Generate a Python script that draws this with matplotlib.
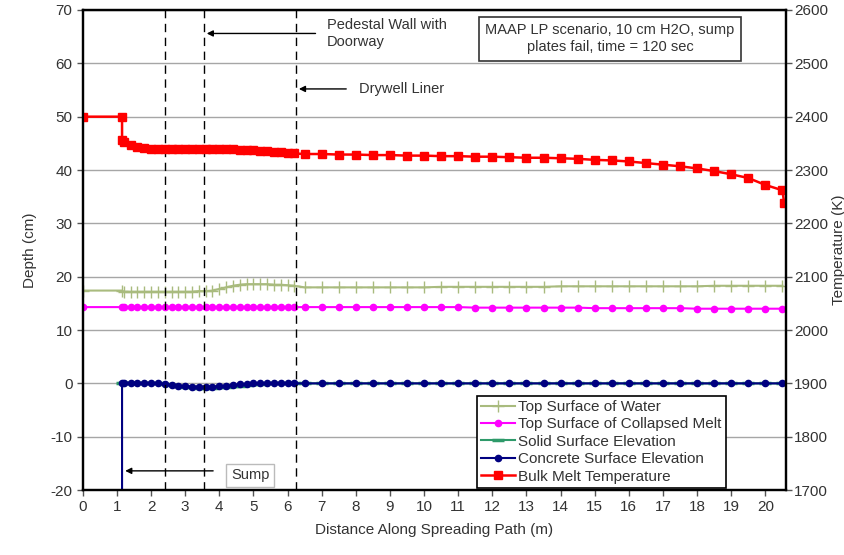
import matplotlib.pyplot as plt
import numpy as np

plt.rcParams['font.family'] = ['Liberation Sans', 'DejaVu Sans']
plt.rcParams['axes.unicode_minus'] = False

# distance along spreading path (m): start, sump edge, dense nodes, coarse nodes
start_x = [0.0, 1.15]
dense_x = [1.2, 1.4, 1.6, 1.8, 2.0, 2.2, 2.4, 2.6, 2.8, 3.0, 3.2, 3.4, 3.6,
           3.8, 4.0, 4.2, 4.4, 4.6, 4.8, 5.0, 5.2, 5.4, 5.6, 5.8, 6.0, 6.2]
coarse_x = [6.5, 7.0, 7.5, 8.0, 8.5, 9.0, 9.5, 10.0, 10.5, 11.0, 11.5, 12.0,
            12.5, 13.0, 13.5, 14.0, 14.5, 15.0, 15.5, 16.0, 16.5, 17.0, 17.5,
            18.0, 18.5, 19.0, 19.5, 20.0, 20.5]

# depth (cm)
water_start = [17.4, 17.4]
water_dense = [17.2, 17.2, 17.2, 17.2, 17.2, 17.2, 17.2, 17.2, 17.2, 17.2, 17.2, 17.3, 17.3,
               17.4, 17.7, 18.0, 18.3, 18.5, 18.6, 18.6, 18.6, 18.6, 18.5, 18.5, 18.4, 18.3]
water_coarse = [18.0, 18.0, 18.0, 18.0, 18.0, 18.0, 18.0, 18.0, 18.1, 18.1, 18.1, 18.1,
                18.1, 18.1, 18.1, 18.2, 18.2, 18.2, 18.2, 18.2, 18.2, 18.2, 18.2,
                18.2, 18.3, 18.3, 18.3, 18.3, 18.3]

melt_start = [14.3, 14.3]
melt_dense = [14.3] * 26
melt_coarse = [14.3, 14.3, 14.3, 14.3, 14.3, 14.3, 14.3, 14.3, 14.3, 14.3, 14.2, 14.2,
               14.2, 14.2, 14.2, 14.2, 14.2, 14.1, 14.1, 14.1, 14.1, 14.1, 14.1,
               14.0, 14.0, 14.0, 14.0, 14.0, 14.0]

solid_start = [0.0]
solid_dense = [0.1, 0.1, 0.1, 0.1, 0.1, 0.0, -0.1, -0.3, -0.5, -0.6, -0.7, -0.8, -0.8,
               -0.8, -0.7, -0.6, -0.5, -0.4, -0.3, -0.2, -0.1, 0.0, 0.0, 0.0, 0.0, 0.0]
solid_coarse = [0.0] * 29

concrete_start = [-20.0, 0.0]
concrete_dense = [0.0, 0.0, 0.0, 0.0, 0.0, 0.0, -0.1, -0.3, -0.4, -0.5, -0.6, -0.6, -0.6,
                  -0.6, -0.5, -0.4, -0.3, -0.2, -0.1, 0.0, 0.0, 0.0, 0.0, 0.0, 0.0, 0.0]
concrete_coarse = [0.0] * 29

# bulk melt temperature (K)
temp_start = [2400, 2400, 2356]
temp_dense = [2352, 2347, 2343, 2341, 2340, 2340, 2339, 2339, 2339, 2339, 2339, 2339, 2339,
              2339, 2339, 2339, 2339, 2338, 2338, 2337, 2336, 2335, 2334, 2333, 2332, 2331]
temp_coarse = [2330, 2330, 2329, 2329, 2328, 2328, 2327, 2327, 2326, 2326, 2325, 2325,
               2324, 2323, 2323, 2322, 2321, 2319, 2318, 2316, 2313, 2310, 2307,
               2303, 2298, 2292, 2285, 2272, 2262]
temp_end_x = [20.55]
temp_end = [2238]

walls = [2.4, 3.55, 6.25]

fig = plt.figure(figsize=(8.45, 5.55), dpi=100)
ax = fig.add_axes([0.098, 0.117, 0.832, 0.865])
ax2 = ax.twinx()

xs_all = start_x + dense_x + coarse_x
water_line, = ax.plot(xs_all, water_start + water_dense + water_coarse, color='#a9bb7e',
                      lw=1.5, marker='+', ms=9, mew=1.0, label='Top Surface of Water')
melt_line, = ax.plot(xs_all, melt_start + melt_dense + melt_coarse, color='#ff00ff',
                     lw=1.5, marker='o', ms=4.5, label='Top Surface of Collapsed Melt')
solid_line, = ax.plot([1.15] + dense_x + coarse_x, solid_start + solid_dense + solid_coarse,
                      color='#2e9a6a', lw=1.5, marker='_', ms=8, mew=2.5,
                      label='Solid Surface Elevation')
conc_line, = ax.plot([1.15, 1.15] + dense_x + coarse_x,
                     concrete_start + concrete_dense + concrete_coarse,
                     color='#000080', lw=1.5, marker='o', ms=4.5,
                     label='Concrete Surface Elevation')
conc_line.set_markevery(list(range(1, len(conc_line.get_xdata()))))

for w in walls:
    ax.axvline(w, color='black', ls=(0, (6, 4)), lw=1.0, zorder=3)

temp_x = [0.0, 1.15, 1.15] + dense_x + coarse_x + temp_end_x
temp_line, = ax2.plot(temp_x, temp_start + temp_dense + temp_coarse + temp_end,
                      color='#ff0000', lw=1.8, marker='s', ms=5.5,
                      label='Bulk Melt Temperature')

ax.set_xlim(0, 20.6)
ax.set_ylim(-20, 70)
ax.set_xticks(range(0, 21))
ax.set_yticks(range(-20, 71, 10))
ax2.set_ylim(1700, 2600)
ax2.set_yticks(range(1700, 2601, 100))
ax.yaxis.grid(True, color='#a6a6a6', lw=1.0)
ax.set_axisbelow(True)

for a in (ax, ax2):
    a.tick_params(labelsize=11, labelcolor='#333333', length=4, width=1, color='#555555')
    for s in a.spines.values():
        s.set_linewidth(1.6)
        s.set_color('black')
ax2.tick_params(pad=2)

ax.set_xlabel('Distance Along Spreading Path (m)', fontsize=11, color='#333333', labelpad=6)
ax.set_ylabel('Depth (cm)', fontsize=11, color='#333333', labelpad=10)
ax2.set_ylabel('Temperature (K)', fontsize=11, color='#333333', labelpad=3)

# annotations
ax.annotate('', xy=(3.55, 65.6), xytext=(6.9, 65.6),
            arrowprops=dict(arrowstyle='-|>', color='black', lw=1.0, mutation_scale=9))
ax.text(7.15, 65.6, 'Pedestal Wall with\nDoorway', fontsize=10.5, color='#333333',
        va='center', ha='left', linespacing=1.2)
ax.annotate('', xy=(6.25, 55.2), xytext=(7.8, 55.2),
            arrowprops=dict(arrowstyle='-|>', color='black', lw=1.0, mutation_scale=9))
ax.text(8.1, 55.2, 'Drywell Liner', fontsize=10.5, color='#333333', va='center', ha='left')
ax.annotate('', xy=(1.16, -16.4), xytext=(3.9, -16.4),
            arrowprops=dict(arrowstyle='-|>', color='black', lw=1.0, mutation_scale=9))
ax.text(4.9, -17.2, 'Sump', fontsize=10.5, color='#333333', va='center', ha='center',
        bbox=dict(boxstyle='square,pad=0.3', fc='white', ec='#bbbbbb', lw=1))
ax.text(0.75, 0.94, 'MAAP LP scenario, 10 cm H2O, sump\nplates fail, time = 120 sec',
        transform=ax.transAxes, fontsize=10.5, color='#333333', ha='center', va='center',
        linespacing=1.25,
        bbox=dict(boxstyle='square,pad=0.45', fc='white', ec='#333333', lw=1.2))

leg = ax2.legend(handles=[water_line, melt_line, solid_line, conc_line, temp_line],
                 loc='lower left', bbox_to_anchor=(0.56, 0.004), fontsize=11,
                 frameon=True, fancybox=False, edgecolor='black', framealpha=1,
                 borderpad=0.3, labelspacing=0.22, handlelength=2.2, handletextpad=0.2,
                 borderaxespad=0)
leg.get_frame().set_linewidth(1.2)
for t in leg.get_texts():
    t.set_color('#333333')

fig.savefig('out.png', dpi=100)
